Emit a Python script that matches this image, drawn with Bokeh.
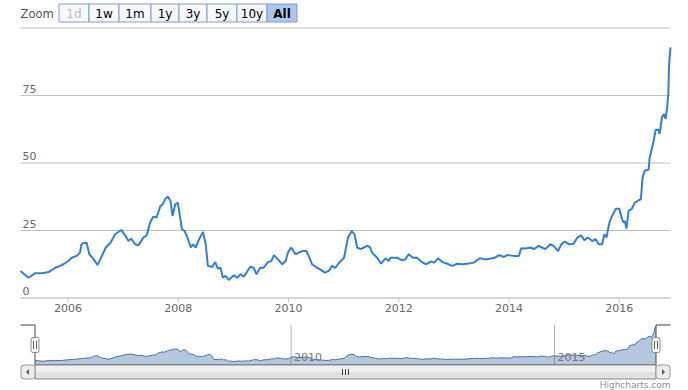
import pandas as pd
from bokeh.plotting import figure
from bokeh.models import Range1d, ColumnDataSource
from bokeh.core.properties import value
from bokeh.embed import file_html
from bokeh.resources import INLINE

# ---------------- data ----------------
dates = [
    "2005-02-21", "2005-03-18", "2005-04-15", "2005-05-30", "2005-07-13", "2005-08-26",
    "2005-10-09", "2005-11-10", "2005-12-02", "2006-01-04", "2006-01-26", "2006-02-28",
    "2006-03-22", "2006-04-01", "2006-04-12", "2006-05-05", "2006-05-23", "2006-06-21",
    "2006-07-16", "2006-08-14", "2006-09-09", "2006-10-08", "2006-11-10", "2006-12-20",
    "2007-01-15", "2007-02-06", "2007-02-24", "2007-03-22", "2007-04-13", "2007-05-16",
    "2007-06-07", "2007-06-29", "2007-07-20", "2007-08-11", "2007-09-06", "2007-09-21",
    "2007-10-09", "2007-10-24", "2007-11-11", "2007-11-25", "2007-12-13", "2007-12-30",
    "2008-01-15", "2008-01-26", "2008-02-13", "2008-03-03", "2008-03-25", "2008-04-09",
    "2008-04-27", "2008-05-19", "2008-06-14", "2008-07-02", "2008-07-16", "2008-08-14",
    "2008-09-02", "2008-09-20", "2008-10-08", "2008-10-23", "2008-11-10", "2008-12-02",
    "2009-01-04", "2009-01-26", "2009-02-17", "2009-03-11", "2009-04-23", "2009-05-15",
    "2009-06-03", "2009-06-28", "2009-07-20", "2009-08-18", "2009-09-09", "2009-09-27",
    "2009-10-19", "2009-11-21", "2009-12-13", "2009-12-28", "2010-01-19", "2010-02-17",
    "2010-03-11", "2010-04-01", "2010-04-30", "2010-05-15", "2010-06-06", "2010-07-09",
    "2010-07-31", "2010-08-29", "2010-09-24", "2010-10-16", "2010-11-07", "2010-12-06",
    "2011-01-04", "2011-01-30", "2011-02-24", "2011-03-14", "2011-04-01", "2011-04-23",
    "2011-05-15", "2011-06-06", "2011-06-24", "2011-07-09", "2011-08-11", "2011-09-06",
    "2011-10-05", "2011-10-27", "2011-11-07", "2011-12-21", "2012-01-23", "2012-02-14",
    "2012-03-07", "2012-04-05", "2012-05-01", "2012-06-07", "2012-07-02", "2012-07-31",
    "2012-08-22", "2012-09-17", "2012-10-16", "2012-11-18", "2012-12-21", "2013-01-23",
    "2013-02-25", "2013-03-30", "2013-05-12", "2013-06-21", "2013-07-31", "2013-09-02",
    "2013-09-27", "2013-10-27", "2013-11-28", "2013-12-20", "2014-02-03", "2014-03-07",
    "2014-03-22", "2014-04-20", "2014-05-23", "2014-06-14", "2014-07-16", "2014-08-07",
    "2014-08-29", "2014-10-01", "2014-10-23", "2014-11-21", "2014-12-13", "2015-01-04",
    "2015-02-03", "2015-03-04", "2015-03-29", "2015-04-23", "2015-05-15", "2015-06-06",
    "2015-07-06", "2015-07-27", "2015-08-18", "2015-09-09", "2015-09-24", "2015-10-08",
    "2015-10-27", "2015-11-14", "2015-12-09", "2016-01-01", "2016-01-19", "2016-01-30",
    "2016-02-06", "2016-02-17", "2016-03-03", "2016-03-22", "2016-04-13", "2016-05-12",
    "2016-05-23", "2016-06-03", "2016-06-17", "2016-07-13", "2016-07-20", "2016-08-11",
    "2016-08-29", "2016-09-17", "2016-09-24", "2016-10-09", "2016-10-23", "2016-11-03",
    "2016-11-14", "2016-11-21", "2016-11-25", "2016-12-05",
]
prices = [
    10.0, 8.8, 7.5, 9.2, 9.2, 9.6,
    11.2, 11.9, 12.5, 13.7, 14.9, 15.6,
    16.8, 19.9, 20.3, 20.5, 16.2, 14.3,
    12.2, 15.6, 18.7, 20.3, 23.6, 25.2,
    23.2, 21.1, 22.0, 19.9, 19.5, 22.4,
    23.2, 27.9, 30.1, 29.8, 34.1, 34.7,
    36.8, 37.6, 36.0, 30.4, 34.7, 35.3,
    29.5, 25.5, 24.8, 22.4, 18.7, 19.9,
    18.7, 21.8, 24.5, 19.9, 11.9, 11.5,
    13.3, 10.9, 11.2, 7.5, 8.2, 6.7,
    8.4, 7.5, 8.8, 7.9, 11.6, 11.2,
    8.8, 11.2, 11.2, 13.3, 13.7, 15.9,
    14.6, 12.5, 13.7, 16.8, 18.7, 16.2,
    16.8, 17.4, 17.4, 15.6, 12.5, 11.2,
    10.6, 9.4, 10.0, 11.9, 11.2, 13.3,
    14.9, 22.4, 24.8, 23.6, 18.7, 18.1,
    18.7, 19.3, 18.9, 16.8, 14.9, 12.7,
    14.7, 13.7, 14.9, 14.9, 14.0, 14.3,
    16.2, 14.9, 14.9, 13.1, 12.5, 13.5,
    13.1, 14.7, 13.3, 12.7, 11.9, 12.7,
    12.5, 12.7, 13.1, 14.7, 14.3, 14.6,
    14.9, 15.9, 15.2, 15.9, 15.6, 15.6,
    18.4, 18.3, 18.7, 18.1, 19.3, 18.7,
    18.1, 19.9, 19.3, 17.4, 19.9, 20.9,
    19.9, 20.1, 22.4, 23.2, 21.4, 22.4,
    21.1, 21.8, 19.9, 19.9, 23.6, 22.4,
    27.9, 30.4, 33.1, 33.1, 29.2, 27.9,
    28.5, 25.7, 32.3, 32.9, 35.3, 36.3,
    36.6, 44.6, 47.1, 47.5, 52.0, 57.0,
    62.3, 62.3, 60.7, 66.9, 68.1, 66.3,
    71.2, 76.1, 86.0, 92.8,
]
y_ticks = [0, 25, 50, 75, 100]
y_tick_labels = ["0", "25", "50", "75"]
x_tick_years = [2006, 2008, 2010, 2012, 2014, 2016]
nav_tick_years = [2010, 2015]
buttons = ["1d", "1w", "1m", "1y", "3y", "5y", "10y", "All"]
zoom_label = "Zoom"
credits = "Highcharts.com"

# ---------------- styles / layout (canvas pixels) ----------------
FONT = "DejaVu Sans"
W, H = 688, 390
LINE_COLOR = "#2f7ed8"
NAV_COLOR = "#4572a7"

MX_L, MX_R = 20, 670            # main plot area, x
MY_0, MY_100 = 297.5, 27.5      # canvas y of value 0 and 100
NAV_L, NAV_R = 34.5, 655.5      # navigator, x of first / last point
NAV_TOP, NAV_BOT = 324.5, 364.5
NAV_VMIN, NAV_VMAX = -1.5, 95.5
SB_TOP, SB_BOT = 364.5, 378.5   # scrollbar

dt = pd.to_datetime(dates)
src = ColumnDataSource(dict(date=dt, price=prices))
t0, t1 = dt[0], dt[-1]


def ms(t):
    return pd.Timestamp(t).value / 1e6


span = ms(t1) - ms(t0)

p = figure(width=W, height=H, x_range=Range1d(0, W), y_range=Range1d(H, 0),
           toolbar_location=None, output_backend="svg", min_border=0,
           x_axis_location=None, y_axis_location=None)
for g in p.grid:
    g.visible = False
p.outline_line_color = None
p.background_fill_color = "white"
p.border_fill_color = "white"

# scales for the main chart
km = span / (MX_R - MX_L)
um = 100.0 / (MY_0 - MY_100)
p.extra_x_ranges["mx"] = Range1d(ms(t0) - MX_L * km, ms(t0) + (W - MX_L) * km)
p.extra_y_ranges["my"] = Range1d(0 - (H - MY_0) * um, 100 + MY_100 * um)
# scales for the navigator
kn = span / (NAV_R - NAV_L)
vn = (NAV_VMAX - NAV_VMIN) / (NAV_BOT - NAV_TOP)
p.extra_x_ranges["nx"] = Range1d(ms(t0) - NAV_L * kn, ms(t0) + (W - NAV_L) * kn)
p.extra_y_ranges["ny"] = Range1d(NAV_VMIN - (H - NAV_BOT) * vn, NAV_VMAX + NAV_TOP * vn)
M = dict(x_range_name="mx", y_range_name="my")
N = dict(x_range_name="nx", y_range_name="ny")

# ---------------- range selector ----------------
btn_edges = [58.5, 88.5, 118.5, 150.5, 178.5, 206.5, 236.5, 266.5, 296.5]
btn_l, btn_r = btn_edges[:-1], btn_edges[1:]
btn_fill = ["#f6f8fc"] * (len(buttons) - 1) + ["#a9c6ee"]
btn_text_color = ["#bbbbbb"] + ["#000000"] * (len(buttons) - 1)
btn_style = ["normal"] * (len(buttons) - 1) + ["bold"]
bsrc = ColumnDataSource(dict(l=btn_l, r=btn_r, c=[(a + b) / 2 for a, b in zip(btn_l, btn_r)],
                             t=buttons, f=btn_fill, tc=btn_text_color, st=btn_style))
p.quad(left="l", right="r", top=3.5, bottom=21.5, source=bsrc, fill_color="f",
       line_color="#7f9ccb", line_width=1)
p.text(x="c", y=13, text="t", source=bsrc, text_align="center", text_baseline="middle",
       text_font=value(FONT), text_font_size="12px", text_color="tc", text_font_style="st")
p.text(x=[20], y=[13], text=[zoom_label], text_align="left", text_baseline="middle",
       text_font=value(FONT), text_font_size="11.5px", text_color="#555555")

# ---------------- main chart ----------------
ny = len(y_ticks)
p.segment(x0=[t0] * ny, y0=y_ticks, x1=[t1] * ny, y1=y_ticks,
          line_color="#c0c0c0", line_width=1, **M)
p.segment(x0=[t0], y0=[0], x1=[t1], y1=[0], line_color="#c0d0e0", line_width=1, **M)
x_ticks = [pd.Timestamp(f"{y}-01-01") for y in x_tick_years]
p.segment(x0=x_ticks, y0=[0] * len(x_ticks), x1=x_ticks, y1=[-5 * um] * len(x_ticks),
          line_color="#c0d0e0", line_width=1, **M)
p.text(x=x_ticks, y=[0] * len(x_ticks), text=[str(y) for y in x_tick_years], y_offset=9.5,
       text_align="center", text_baseline="middle", text_font=value(FONT),
       text_font_size="11px", text_color="#666666", **M)
p.text(x=[t0] * len(y_tick_labels), y=y_ticks[:len(y_tick_labels)], text=y_tick_labels,
       x_offset=2, y_offset=-7, text_align="left", text_baseline="middle",
       text_font=value(FONT), text_font_size="11px", text_color="#666666", **M)
p.line("date", "price", source=src, line_color=LINE_COLOR, line_width=2, **M)

# ---------------- navigator ----------------
nav_ticks = [pd.Timestamp(f"{y}-01-01") for y in nav_tick_years]
nt = len(nav_ticks)
p.segment(x0=nav_ticks, y0=[NAV_VMIN] * nt, x1=nav_ticks, y1=[NAV_VMAX] * nt,
          line_color="#b0b0b0", line_width=1, **N)
p.varea(x="date", y1=NAV_VMIN, y2="price", source=src, fill_color=NAV_COLOR, fill_alpha=0.4, **N)
p.line("date", "price", source=src, line_color=NAV_COLOR, line_width=1, **N)
p.text(x=nav_ticks, y=[NAV_VMIN] * nt, text=[str(y) for y in nav_tick_years],
       x_offset=3, y_offset=-8.5, text_align="left", text_baseline="middle",
       text_font=value(FONT), text_font_size="11px", text_color="#777777", **N)

p.line(x=[MX_L, NAV_L, NAV_L, NAV_R, NAV_R, MX_R],
       y=[NAV_TOP, NAV_TOP, NAV_BOT, NAV_BOT, NAV_TOP, NAV_TOP],
       line_color="#444444", line_width=1)

# ---------------- scrollbar ----------------
mid = (SB_TOP + SB_BOT) / 2
p.quad(left=NAV_L, right=NAV_R, top=SB_TOP, bottom=mid, fill_color="#f0f0f0", line_color=None)
p.quad(left=NAV_L, right=NAV_R, top=mid, bottom=SB_BOT, fill_color="#e1e1e1", line_color=None)
p.quad(left=NAV_L, right=NAV_R, top=SB_TOP, bottom=SB_BOT, fill_color=None, line_color="#888888")
for bl, br in [(MX_L + 0.5, NAV_L), (NAV_R, MX_R - 0.5)]:
    try:
        p.quad(left=bl, right=br, top=SB_TOP, bottom=SB_BOT, fill_color="#ececec",
               line_color="#999999", border_radius=3)
    except AttributeError:
        p.quad(left=bl, right=br, top=SB_TOP, bottom=SB_BOT, fill_color="#ececec",
               line_color="#999999")
p.patches(xs=[[28.5, 28.5, 25.5], [661.5, 661.5, 664.5]],
          ys=[[mid - 3, mid + 3, mid], [mid - 3, mid + 3, mid]],
          fill_color="#555555", line_color=None)
gx = (NAV_L + NAV_R) / 2
p.segment(x0=[gx - 3, gx, gx + 3], y0=[mid - 3] * 3, x1=[gx - 3, gx, gx + 3], y1=[mid + 3] * 3,
          line_color="#444444", line_width=1)

# ---------------- handles ----------------
hy = (NAV_TOP + NAV_BOT) / 2
for hx in (NAV_L, NAV_R):
    try:
        p.quad(left=hx - 4, right=hx + 4, top=hy - 7.5, bottom=hy + 7.5, fill_color="#f7f7f7",
               line_color="#8c8c8c", border_radius=2)
    except AttributeError:
        p.quad(left=hx - 4, right=hx + 4, top=hy - 7.5, bottom=hy + 7.5, fill_color="#f7f7f7",
               line_color="#8c8c8c")
    p.segment(x0=[hx - 1.5, hx + 1.5], y0=[hy - 4] * 2, x1=[hx - 1.5, hx + 1.5], y1=[hy + 4] * 2,
              line_color="#666666", line_width=1)

p.text(x=[MX_R], y=[384.5], text=[credits], text_align="right", text_baseline="middle",
       text_font=value(FONT), text_font_size="9px", text_color="#909090")

open("out.html", "w").write(file_html(p, INLINE))
